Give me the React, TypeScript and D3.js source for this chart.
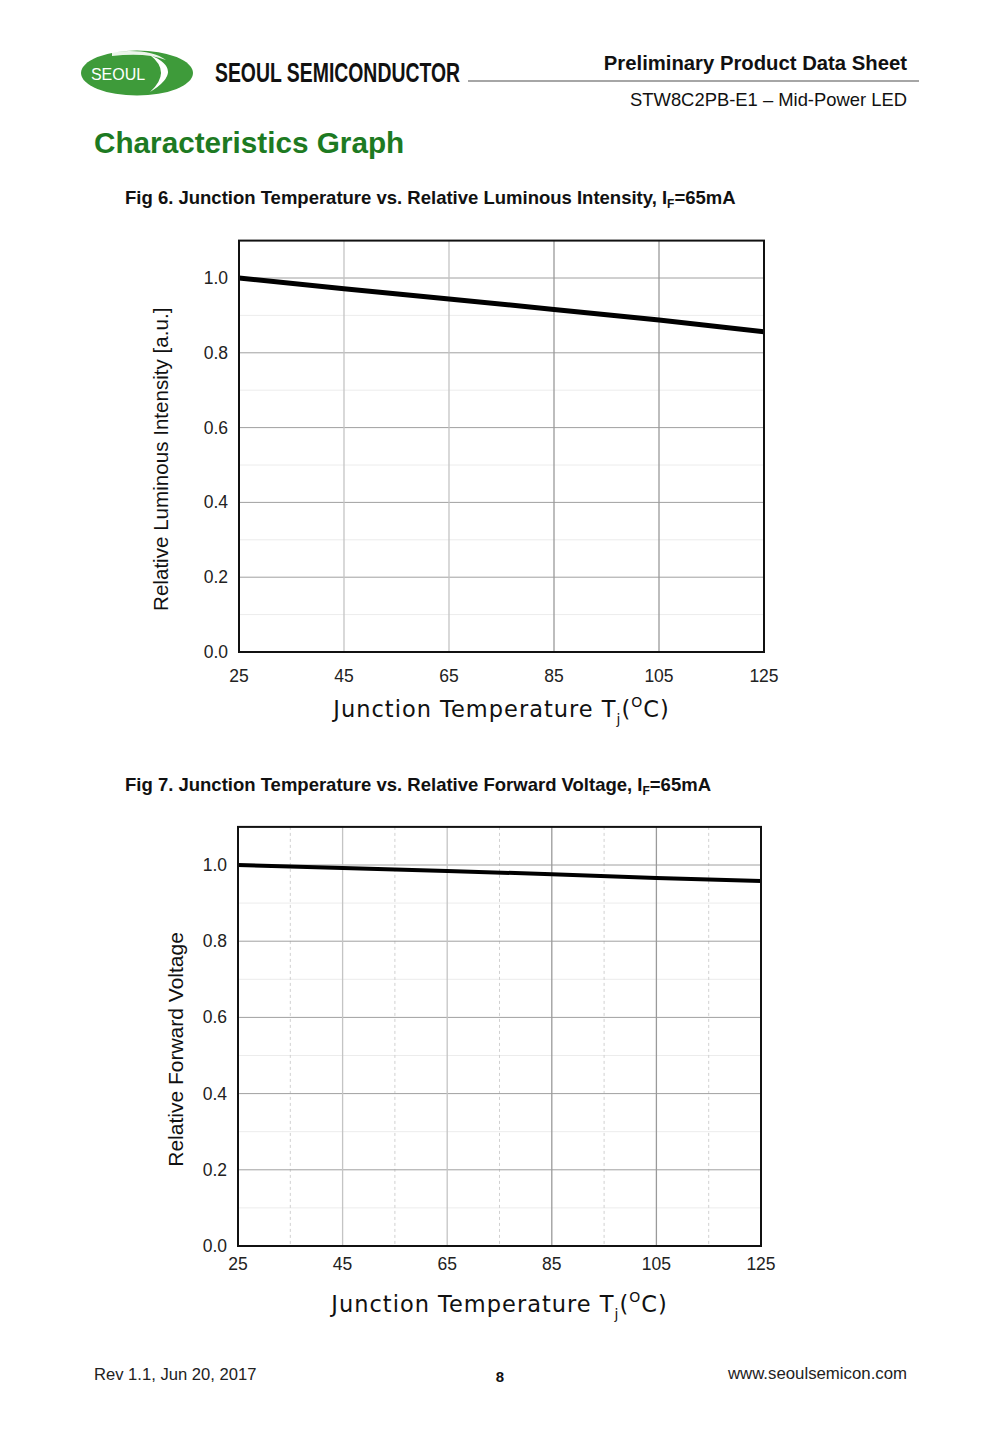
import React from "react";
import * as d3 from "d3";

// Junction temperature (°C) sample points shared by both graphs
const temperatures = [25, 45, 65, 85, 105, 125];
// Relative luminous intensity at IF=65mA
const luminousIntensity = [1.0, 0.971, 0.944, 0.916, 0.888, 0.856];
// Relative forward voltage at IF=65mA
const forwardVoltage = [1.0, 0.992, 0.984, 0.976, 0.966, 0.958];

const xTicks = [25, 45, 65, 85, 105, 125];
const xMinorTicks = [35, 55, 75, 95, 115];
const yTicks = [0, 0.2, 0.4, 0.6, 0.8, 1.0];
const yMinorTicks = [0.1, 0.3, 0.5, 0.7, 0.9];

const SANS = "'Liberation Sans', Arial, sans-serif";
const WIDE = "'DejaVu Sans', Verdana, sans-serif";

type ChartProps = {
  left: number;
  right: number;
  zeroY: number;
  unitPx: number;
  values: number[];
  yTitle: string;
  yTitleX: number;
  yTitleSize: number;
  xLabelDy: number;
  xTitleDy: number;
  strokeWidth: number;
  minorVertical: boolean;
};

function Chart({
  left,
  right,
  zeroY,
  unitPx,
  values,
  yTitle,
  yTitleX,
  yTitleSize,
  xLabelDy,
  xTitleDy,
  strokeWidth,
  minorVertical,
}: ChartProps) {
  const top = zeroY - 1.1 * unitPx;
  const x = d3.scaleLinear().domain([25, 125]).range([left, right]);
  const y = d3.scaleLinear().domain([0, 1.1]).range([zeroY, top]);
  const line = d3
    .line<number>()
    .x((_, i) => x(temperatures[i]))
    .y((d) => y(d));
  const midX = (left + right) / 2;
  const midY = (zeroY + top) / 2;
  return (
    <g>
      {yMinorTicks.map((t) => (
        <line key={"hm" + t} x1={left} x2={right} y1={y(t)} y2={y(t)} stroke="#ececec" strokeWidth={1} />
      ))}
      {minorVertical &&
        xMinorTicks.map((t) => (
          <line key={"vm" + t} x1={x(t)} x2={x(t)} y1={top} y2={zeroY} stroke="#d0d0d0" strokeWidth={1} strokeDasharray="3,3" />
        ))}
      {yTicks.slice(1).map((t) => (
        <line key={"h" + t} x1={left} x2={right} y1={y(t)} y2={y(t)} stroke="#a0a0a0" strokeWidth={1} />
      ))}
      {xTicks.slice(1, -1).map((t, i) => (
        <line key={"v" + t} x1={x(t)} x2={x(t)} y1={top} y2={zeroY} stroke={i < 2 ? "#c4c4c4" : "#9a9a9a"} strokeWidth={1.3} />
      ))}
      <path d={line(values) ?? ""} fill="none" stroke="#000" strokeWidth={strokeWidth} />
      <rect x={left} y={top} width={right - left} height={zeroY - top} fill="none" stroke="#111" strokeWidth={2} />
      {yTicks.map((t) => (
        <text key={"yl" + t} x={left - 11} y={y(t) + 6} textAnchor="end" fontFamily={SANS} fontSize={17.5} fill="#222">
          {t.toFixed(1)}
        </text>
      ))}
      {xTicks.map((t) => (
        <text key={"xl" + t} x={x(t)} y={zeroY + xLabelDy} textAnchor="middle" fontFamily={SANS} fontSize={17.5} fill="#222">
          {t}
        </text>
      ))}
      <text
        transform={`translate(${yTitleX},${midY + 13}) rotate(-90)`}
        textAnchor="middle"
        fontFamily={SANS}
        fontSize={yTitleSize}
        fill="#111"
      >
        {yTitle}
      </text>
      <text x={midX} y={zeroY + xTitleDy} textAnchor="middle" fontFamily={WIDE} fontSize={22.5} fill="#111" letterSpacing={1}>
        Junction Temperature T
        <tspan fontSize={14} dy={7}>j</tspan>
        <tspan dy={-7}>(</tspan>
        <tspan fontSize={14} dy={-10}>O</tspan>
        <tspan dy={10}>C)</tspan>
      </text>
    </g>
  );
}

function FigTitle({ y, text }: { y: number; text: string }) {
  return (
    <text x={125} y={y} fontFamily={SANS} fontWeight="bold" fontSize={18.5} fill="#111">
      {text}, I<tspan fontSize={12} dy={4}>F</tspan>
      <tspan dy={-4}>=65mA</tspan>
    </text>
  );
}

export default function App() {
  return (
    <svg
      width={1000}
      height={1444}
      viewBox="0 0 1000 1444"
      style={{ position: "absolute", left: 0, top: 0, background: "#fff" }}
    >
      <rect width={1000} height={1444} fill="#fff" />
      {/* Header logo */}
      <ellipse cx={137} cy={73} rx={56} ry={22.5} fill="#3e9b3a" />
      <path d="M150 55 Q186 70 150 92 Q172 72 150 55 Z" fill="#fff" />
      <path d="M112 52 Q150 48 166 60 Q146 52 112 56 Z" fill="#fff" opacity={0.9} />
      <text x={118} y={80} textAnchor="middle" fontFamily={SANS} fontSize={16} fill="#fff">
        SEOUL
      </text>
      <text
        x={215}
        y={82}
        fontFamily="'Liberation Sans Narrow', 'Liberation Sans', sans-serif"
        fontWeight="bold"
        fontSize={27}
        textLength={245}
        lengthAdjust="spacingAndGlyphs"
        fill="#111"
      >
        SEOUL SEMICONDUCTOR
      </text>
      <line x1={468} x2={919} y1={81} y2={81} stroke="#888" strokeWidth={1.5} />
      <text x={907} y={70} textAnchor="end" fontFamily={SANS} fontWeight="bold" fontSize={20.3} fill="#111">
        Preliminary Product Data Sheet
      </text>
      <text x={907} y={106} textAnchor="end" fontFamily={SANS} fontSize={18.4} fill="#111">
        STW8C2PB-E1 – Mid-Power LED
      </text>
      <text x={94} y={153} fontFamily={SANS} fontWeight="bold" fontSize={29.7} fill="#1d7a22">
        Characteristics Graph
      </text>

      <FigTitle y={204} text="Fig 6. Junction Temperature vs. Relative Luminous Intensity" />
      <Chart
        left={239}
        right={764}
        zeroY={652}
        unitPx={374}
        values={luminousIntensity}
        yTitle="Relative Luminous Intensity [a.u.]"
        yTitleX={168}
        yTitleSize={20.6}
        xLabelDy={30}
        xTitleDy={65}
        strokeWidth={5}
        minorVertical={false}
      />

      <FigTitle y={791} text="Fig 7. Junction Temperature vs. Relative Forward Voltage" />
      <Chart
        left={238}
        right={761}
        zeroY={1246}
        unitPx={381}
        values={forwardVoltage}
        yTitle="Relative Forward Voltage"
        yTitleX={183}
        yTitleSize={21}
        xLabelDy={24}
        xTitleDy={66}
        strokeWidth={4}
        minorVertical={true}
      />

      {/* Footer */}
      <text x={94} y={1380} fontFamily={SANS} fontSize={16.6} fill="#222">
        Rev 1.1, Jun 20, 2017
      </text>
      <text x={500} y={1382} textAnchor="middle" fontFamily={SANS} fontWeight="bold" fontSize={15} fill="#111">
        8
      </text>
      <text x={907} y={1379} textAnchor="end" fontFamily={SANS} fontSize={16.8} fill="#222">
        www.seoulsemicon.com
      </text>
    </svg>
  );
}
